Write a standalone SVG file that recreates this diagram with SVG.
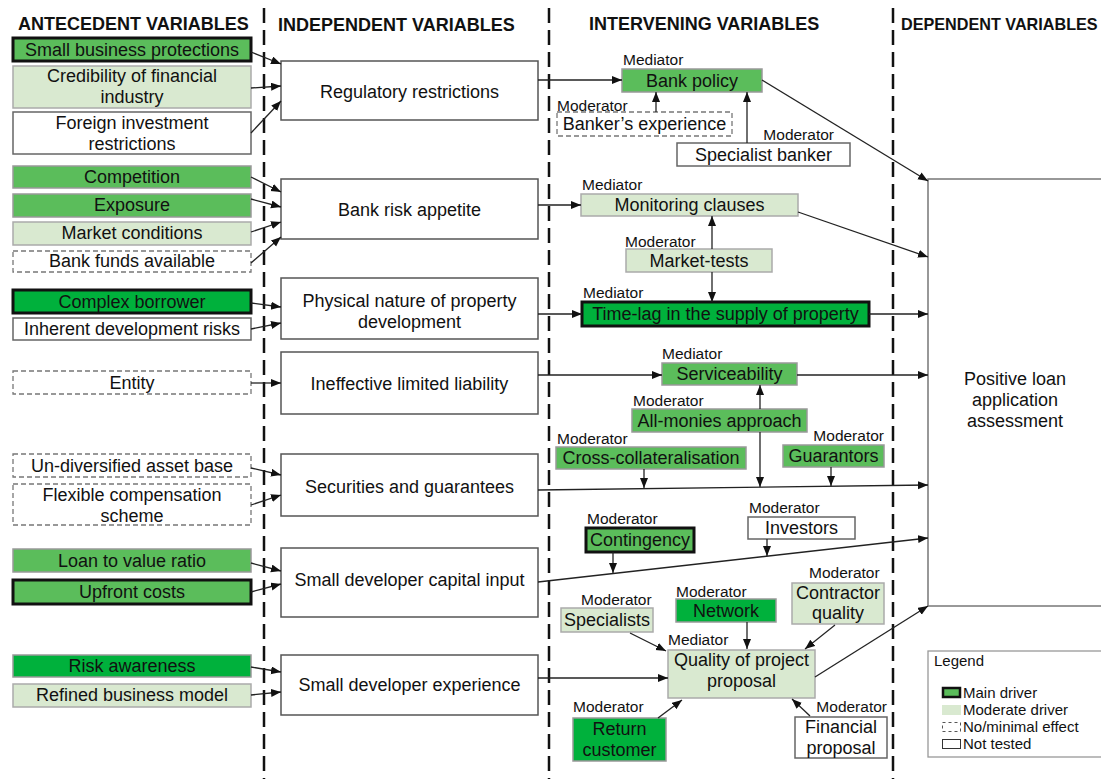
<svg xmlns="http://www.w3.org/2000/svg" width="1101" height="779" viewBox="0 0 1101 779">
<style>
text{font-family:"Liberation Sans",Arial,sans-serif;fill:#111}
.hd{font-size:18px;font-weight:bold}
.t{font-size:18px;text-anchor:middle}
.lb{font-size:15.5px}
.lg{font-size:15px}
.end{text-anchor:end}
.div{stroke:#111;stroke-width:2.5;stroke-dasharray:15 7;fill:none}
.w{fill:#fff;stroke:#666;stroke-width:1.5}
.iv{fill:#fff;stroke:#555;stroke-width:1.5}
.dsh{fill:#fff;stroke:#777;stroke-width:1.3;stroke-dasharray:5 3}
.lt{fill:#d9e9d0;stroke:#aaa;stroke-width:1.5}
.md{fill:#5bbd5b;stroke:#999;stroke-width:1.5}
.br{fill:#00b13c;stroke:#999;stroke-width:1.5}
.mn{stroke:#111;stroke-width:3}
#connectors line{stroke:#222;stroke-width:1.3;marker-end:url(#ah)}
</style>
<defs>
<marker id="ah" markerUnits="userSpaceOnUse" markerWidth="11" markerHeight="9" refX="10" refY="4" orient="auto">
<path d="M0,0 L10,4 L0,8 z" fill="#111"/>
</marker>
</defs>
<rect width="1101" height="779" fill="#fff"/>
<g id="dividers">
<line class="div" x1="264" y1="8" x2="264" y2="779"/>
<line class="div" x1="549" y1="8" x2="549" y2="779"/>
<line class="div" x1="893" y1="8" x2="893" y2="779"/>
</g>
<g id="headers">
<text class="hd" x="18" y="30">ANTECEDENT VARIABLES</text>
<text class="hd" x="278" y="31">INDEPENDENT VARIABLES</text>
<text class="hd" x="589" y="30">INTERVENING VARIABLES</text>
<text class="hd" x="901" y="30" style="font-size:16.2px">DEPENDENT VARIABLES</text>
</g>
<g id="antecedent">
<g id="a-small-business"><rect class="md mn" x="13" y="38" width="238" height="23"/><text class="t" x="132" y="56">Small business protections</text></g>
<g id="a-credibility"><rect class="lt" x="13" y="66" width="238" height="42"/><text class="t" x="132" y="82">Credibility of financial</text><text class="t" x="132" y="103">industry</text></g>
<g id="a-foreign"><rect class="w" x="13" y="112" width="238" height="42"/><text class="t" x="132" y="129">Foreign investment</text><text class="t" x="132" y="150">restrictions</text></g>
<g id="a-competition"><rect class="md" x="13" y="166" width="238" height="22"/><text class="t" x="132" y="183">Competition</text></g>
<g id="a-exposure"><rect class="md" x="13" y="194" width="238" height="23"/><text class="t" x="132" y="211">Exposure</text></g>
<g id="a-market"><rect class="lt" x="13" y="222" width="238" height="23"/><text class="t" x="132" y="239">Market conditions</text></g>
<g id="a-bankfunds"><rect class="dsh" x="13" y="251" width="238" height="21"/><text class="t" x="132" y="267">Bank funds available</text></g>
<g id="a-complex"><rect class="br mn" x="13" y="290" width="238" height="23"/><text class="t" x="132" y="308">Complex borrower</text></g>
<g id="a-inherent"><rect class="w" x="13" y="318" width="238" height="22"/><text class="t" x="132" y="335">Inherent development risks</text></g>
<g id="a-entity"><rect class="dsh" x="13" y="371" width="238" height="23"/><text class="t" x="132" y="389">Entity</text></g>
<g id="a-undiversified"><rect class="dsh" x="13" y="454" width="238" height="23"/><text class="t" x="132" y="472">Un-diversified asset base</text></g>
<g id="a-flexible"><rect class="dsh" x="13" y="484" width="238" height="41"/><text class="t" x="132" y="501">Flexible compensation</text><text class="t" x="132" y="522">scheme</text></g>
<g id="a-ltv"><rect class="md" x="13" y="549" width="238" height="23"/><text class="t" x="132" y="567">Loan to value ratio</text></g>
<g id="a-upfront"><rect class="md mn" x="13" y="580" width="238" height="24"/><text class="t" x="132" y="598">Upfront costs</text></g>
<g id="a-risk"><rect class="br" x="13" y="655" width="238" height="22"/><text class="t" x="132" y="672">Risk awareness</text></g>
<g id="a-refined"><rect class="lt" x="13" y="684" width="238" height="23"/><text class="t" x="132" y="701">Refined business model</text></g>
</g>
<g id="independent">
<g id="i-regulatory"><rect class="iv" x="281" y="61" width="257" height="59"/><text class="t" x="409.5" y="98">Regulatory restrictions</text></g>
<g id="i-bankrisk"><rect class="iv" x="281" y="179" width="257" height="60"/><text class="t" x="409.5" y="216">Bank risk appetite</text></g>
<g id="i-physical"><rect class="iv" x="281" y="278" width="257" height="61"/><text class="t" x="409.5" y="307">Physical nature of property</text><text class="t" x="409.5" y="328">development</text></g>
<g id="i-ineffective"><rect class="iv" x="281" y="352" width="257" height="62"/><text class="t" x="409.5" y="390">Ineffective limited liability</text></g>
<g id="i-securities"><rect class="iv" x="281" y="454" width="257" height="62"/><text class="t" x="409.5" y="493">Securities and guarantees</text></g>
<g id="i-capital"><rect class="iv" x="281" y="548" width="257" height="69"/><text class="t" x="409.5" y="586">Small developer capital input</text></g>
<g id="i-experience"><rect class="iv" x="281" y="655" width="257" height="60"/><text class="t" x="409.5" y="691">Small developer experience</text></g>
</g>
<g id="intervening">
<g id="n-bankpolicy"><text class="lb" x="623" y="65">Mediator</text><rect class="md" x="622" y="69" width="140" height="23"/><text class="t" x="692" y="87">Bank policy</text></g>
<g id="n-bankers"><text class="lb" x="557" y="111">Moderator</text><rect class="dsh" x="557" y="112" width="175" height="24"/><text class="t" x="644.5" y="130">Banker’s experience</text></g>
<g id="n-specialistbanker"><text class="lb end" x="834" y="140">Moderator</text><rect class="w" x="677" y="143" width="173" height="23"/><text class="t" x="763.5" y="161">Specialist banker</text></g>
<g id="n-monitoring"><text class="lb" x="582" y="190">Mediator</text><rect class="lt" x="581" y="194" width="217" height="22"/><text class="t" x="689.5" y="211">Monitoring clauses</text></g>
<g id="n-markettests"><text class="lb" x="625" y="247">Moderator</text><rect class="lt" x="626" y="249" width="146" height="23"/><text class="t" x="699" y="267">Market-tests</text></g>
<g id="n-timelag"><text class="lb" x="583" y="298">Mediator</text><rect class="br mn" x="582" y="302" width="287" height="24"/><text class="t" x="725.5" y="320">Time-lag in the supply of property</text></g>
<g id="n-serviceability"><text class="lb" x="662" y="359">Mediator</text><rect class="md" x="662" y="363" width="135" height="22"/><text class="t" x="729.5" y="380">Serviceability</text></g>
<g id="n-allmonies"><text class="lb" x="633" y="406">Moderator</text><rect class="md" x="632" y="409" width="175" height="23"/><text class="t" x="719.5" y="427">All-monies approach</text></g>
<g id="n-cross"><text class="lb" x="557" y="444">Moderator</text><rect class="md" x="556" y="447" width="190" height="22"/><text class="t" x="651" y="464">Cross-collateralisation</text></g>
<g id="n-guarantors"><text class="lb end" x="884" y="441">Moderator</text><rect class="md" x="783" y="445" width="101" height="22"/><text class="t" x="833.5" y="462">Guarantors</text></g>
<g id="n-investors"><text class="lb" x="749" y="513">Moderator</text><rect class="w" x="748" y="517" width="107" height="22"/><text class="t" x="801.5" y="534">Investors</text></g>
<g id="n-contingency"><text class="lb" x="587" y="524">Moderator</text><rect class="md mn" x="586" y="528" width="108" height="24"/><text class="t" x="640" y="546">Contingency</text></g>
<g id="n-specialists"><text class="lb" x="581" y="605">Moderator</text><rect class="lt" x="561" y="608" width="92" height="24"/><text class="t" x="607" y="626">Specialists</text></g>
<g id="n-network"><text class="lb" x="676" y="597">Moderator</text><rect class="br" x="676" y="599" width="100" height="23"/><text class="t" x="726" y="617">Network</text></g>
<g id="n-contractor"><text class="lb" x="809" y="578">Moderator</text><rect class="lt" x="792" y="583" width="92" height="41"/><text class="t" x="838" y="599">Contractor</text><text class="t" x="838" y="619">quality</text></g>
<g id="n-quality"><text class="lb" x="668" y="645">Mediator</text><rect class="lt" x="668" y="650" width="147" height="48"/><text class="t" x="741.5" y="666">Quality of project</text><text class="t" x="741.5" y="687">proposal</text></g>
<g id="n-return"><text class="lb" x="573" y="712">Moderator</text><rect class="br" x="573" y="718" width="93" height="43"/><text class="t" x="619.5" y="735">Return</text><text class="t" x="619.5" y="756">customer</text></g>
<g id="n-financial"><text class="lb end" x="887" y="712">Moderator</text><rect class="w" x="795" y="717" width="92" height="41"/><text class="t" x="841" y="733">Financial</text><text class="t" x="841" y="754">proposal</text></g>
</g>
<g id="dependent">
<rect class="iv" x="928" y="179" width="174" height="427" style="stroke:#777"/>
<text class="t" x="1015" y="385">Positive loan</text>
<text class="t" x="1015" y="406">application</text>
<text class="t" x="1015" y="427">assessment</text>
</g>
<g id="legend">
<rect x="928" y="651" width="180" height="106" fill="#fff" stroke="#999" stroke-width="1.3"/>
<text class="lg" x="934" y="666">Legend</text>
<rect x="943" y="688" width="17" height="9" fill="#5bbd5b" stroke="#111" stroke-width="2.5"/>
<text class="lg" x="963" y="698">Main driver</text>
<rect x="942" y="705" width="19" height="10" fill="#d9e9d0"/>
<text class="lg" x="963" y="715">Moderate driver</text>
<rect x="942.5" y="722.5" width="18" height="9" fill="#fff" stroke="#555" stroke-width="1" stroke-dasharray="3 3"/>
<text class="lg" x="963" y="732">No/minimal effect</text>
<rect x="942.5" y="739.5" width="18" height="9" fill="#fff" stroke="#333" stroke-width="1"/>
<text class="lg" x="963" y="749">Not tested</text>
</g>
<g id="connectors">
<line x1="251" y1="52" x2="281" y2="64"/>
<line x1="251" y1="88" x2="281" y2="86"/>
<line x1="251" y1="133" x2="281" y2="101"/>
<line x1="251" y1="177" x2="281" y2="192"/>
<line x1="251" y1="199" x2="281" y2="207"/>
<line x1="251" y1="232" x2="281" y2="222"/>
<line x1="251" y1="263" x2="281" y2="237"/>
<line x1="251" y1="303" x2="281" y2="307"/>
<line x1="251" y1="329" x2="281" y2="323"/>
<line x1="251" y1="383" x2="281" y2="383"/>
<line x1="251" y1="468" x2="281" y2="475"/>
<line x1="251" y1="505" x2="281" y2="495"/>
<line x1="251" y1="563" x2="281" y2="571"/>
<line x1="251" y1="592" x2="281" y2="584"/>
<line x1="251" y1="667" x2="281" y2="672"/>
<line x1="251" y1="695" x2="281" y2="692"/>
<line x1="538" y1="80" x2="622" y2="80"/>
<line x1="656" y1="112" x2="656" y2="92"/>
<line x1="747" y1="143" x2="747" y2="92"/>
<line x1="762" y1="80" x2="928" y2="181"/>
<line x1="538" y1="205" x2="581" y2="205"/>
<line x1="712" y1="249" x2="712" y2="216"/>
<line x1="712" y1="272" x2="712" y2="302"/>
<line x1="798" y1="212" x2="928" y2="257"/>
<line x1="538" y1="314" x2="582" y2="314"/>
<line x1="869" y1="314" x2="928" y2="314"/>
<line x1="538" y1="375" x2="662" y2="375"/>
<line x1="797" y1="375" x2="928" y2="375"/>
<line x1="760" y1="409" x2="760" y2="385"/>
<line x1="760" y1="432" x2="760" y2="487"/>
<line x1="644" y1="469" x2="644" y2="488"/>
<line x1="831" y1="467" x2="831" y2="486"/>
<line x1="538" y1="490" x2="928" y2="485"/>
<line x1="767" y1="539" x2="767" y2="556"/>
<line x1="613" y1="552" x2="613" y2="573"/>
<line x1="538" y1="582" x2="928" y2="538"/>
<line x1="630" y1="633" x2="666" y2="651"/>
<line x1="747" y1="622" x2="747" y2="649"/>
<line x1="835" y1="625" x2="805" y2="649"/>
<line x1="538" y1="678" x2="668" y2="678"/>
<line x1="815" y1="677" x2="928" y2="606"/>
<line x1="658" y1="718" x2="682" y2="700"/>
<line x1="810" y1="716" x2="792" y2="699"/>
</g>
</svg>
